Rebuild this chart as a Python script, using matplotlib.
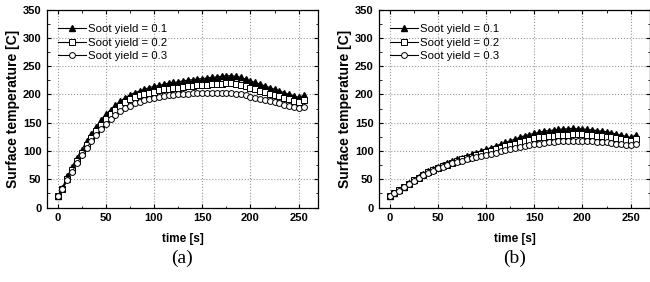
import numpy as np
import matplotlib
matplotlib.use("Agg")
import matplotlib.pyplot as plt
from matplotlib.ticker import MultipleLocator

plt.rcParams['font.family'] = ['Liberation Sans', 'DejaVu Sans']

time = np.arange(0, 256, 5)

# panel (a)
a_y01 = [20, 35, 55, 72, 88, 102, 117, 130, 143, 155, 165, 173, 181, 188, 194, 199, 203, 206,
         209, 212, 214, 216, 218, 220, 221, 222, 224, 225, 226, 227, 228, 229, 230, 231, 232,
         233, 233, 232, 230, 227, 224, 221, 218, 215, 212, 209, 206, 203, 200, 197, 195, 198]
a_y02 = [20, 33, 50, 66, 82, 96, 110, 123, 135, 146, 156, 165, 173, 180, 186, 191, 195, 198,
         201, 203, 205, 207, 209, 210, 211, 212, 213, 214, 215, 216, 217, 217, 218, 219, 219,
         220, 220, 219, 217, 215, 212, 209, 206, 204, 201, 199, 197, 194, 192, 189, 187, 190]
a_y03 = [20, 32, 48, 63, 78, 92, 105, 117, 128, 138, 148, 156, 164, 170, 176, 180, 184, 187,
         190, 192, 194, 196, 197, 198, 199, 200, 201, 201, 202, 202, 202, 202, 202, 202, 202,
         202, 202, 201, 200, 198, 196, 194, 192, 190, 188, 186, 184, 182, 180, 178, 176, 178]

# panel (b)
b_y01 = [20, 25, 31, 37, 43, 49, 54, 59, 64, 68, 72, 75, 79, 82, 85, 88, 91, 94,
         97, 100, 103, 106, 109, 112, 115, 118, 121, 124, 127, 129, 131, 133, 135, 136, 137,
         138, 139, 139, 140, 139, 139, 138, 137, 136, 135, 134, 132, 130, 128, 126, 124, 128]
b_y02 = [20, 25, 31, 37, 42, 48, 53, 58, 62, 66, 70, 73, 76, 79, 82, 85, 88, 90,
         93, 95, 98, 100, 103, 105, 108, 110, 113, 115, 118, 120, 122, 124, 125, 126, 127,
         128, 129, 129, 130, 130, 130, 129, 128, 127, 126, 125, 124, 123, 121, 120, 118, 121]
b_y03 = [20, 25, 30, 36, 42, 47, 52, 57, 61, 65, 69, 72, 75, 78, 80, 83, 85, 87,
         89, 91, 93, 95, 97, 99, 101, 103, 105, 107, 109, 110, 112, 113, 114, 115, 116,
         117, 117, 118, 118, 118, 118, 117, 117, 116, 115, 115, 114, 113, 112, 111, 110, 113]

labels = ['Soot yield = 0.1', 'Soot yield = 0.2', 'Soot yield = 0.3']
panel_names = ['(a)', '(b)']

fig = plt.figure(figsize=(6.5, 2.82), dpi=100)
ax_a = fig.add_axes([47 / 650, 74.5 / 282, 271 / 650, 198 / 282])
ax_b = fig.add_axes([379 / 650, 74.5 / 282, 271 / 650, 198 / 282])

for ax, series, name in [(ax_a, [a_y01, a_y02, a_y03], panel_names[0]),
                         (ax_b, [b_y01, b_y02, b_y03], panel_names[1])]:
    ax.plot(time, series[0], color='black', lw=0.8, marker='^', ms=5,
            mfc='black', mec='black', label=labels[0])
    ax.plot(time, series[1], color='black', lw=0.8, marker='s', ms=4,
            mfc='white', mec='black', mew=0.7, label=labels[1])
    ax.plot(time, series[2], color='black', lw=0.8, marker='o', ms=4.2,
            mfc='white', mec='black', mew=0.7, label=labels[2])

    ax.set_xlim(-11, 270)
    ax.set_ylim(0, 350)
    ax.xaxis.set_major_locator(MultipleLocator(50))
    ax.xaxis.set_minor_locator(MultipleLocator(25))
    ax.yaxis.set_major_locator(MultipleLocator(50))
    ax.yaxis.set_minor_locator(MultipleLocator(25))
    ax.tick_params(which='both', direction='in', top=True, right=True, labelsize=8)
    ax.tick_params(which='major', length=3, width=0.8, pad=4)
    ax.tick_params(which='minor', length=1.8, width=0.6)
    for lab in ax.get_xticklabels() + ax.get_yticklabels():
        lab.set_fontweight('bold')
    ax.grid(True, which='major', color='#999999', linestyle=':', linewidth=0.8)
    for sp in ax.spines.values():
        sp.set_linewidth(0.9)

    ax.set_xlabel('time [s]', fontsize=8.5, fontweight='bold', labelpad=7)
    ax.set_ylabel('Surface temperature [C]', fontsize=10, fontweight='bold', labelpad=2)
    ax.legend(loc='upper left', frameon=False, fontsize=8.2, handlelength=2.5,
              handletextpad=0.2, labelspacing=0.28, borderaxespad=0.3,
              bbox_to_anchor=(0.01, 0.965))
    ax.text(0.5, -0.255, name, transform=ax.transAxes, ha='center', va='center',
            fontsize=14, family='Liberation Serif')

fig.savefig('out.png', dpi=100)
